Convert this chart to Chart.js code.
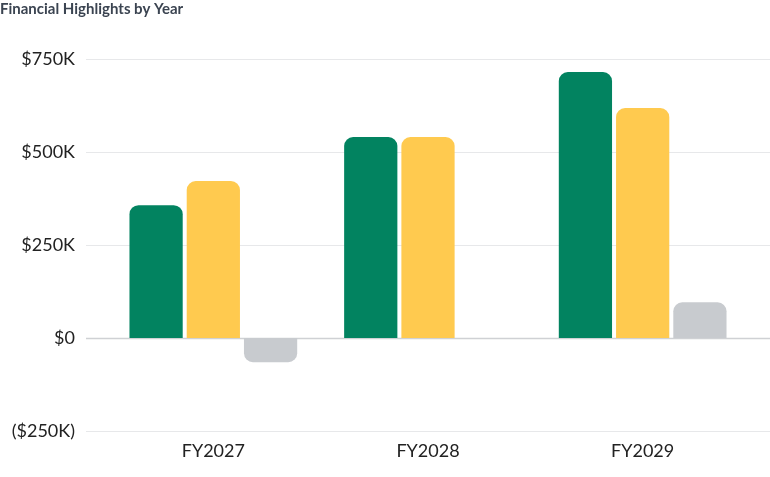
<!DOCTYPE html>
<html>
<head>
<meta charset="utf-8">
<script src="https://cdn.jsdelivr.net/npm/chart.js@4/dist/chart.umd.min.js"></script>
<style>
  html, body { margin: 0; padding: 0; background: #ffffff; }
  #wrap { width: 770px; height: 477px; position: relative; }
</style>
</head>
<body>
<div id="wrap"><canvas id="c"></canvas></div>
<script>
const categories = ['FY2027', 'FY2028', 'FY2029'];
const revenue = [357, 540, 715];
const expenses = [422, 540, 618];
const netIncome = [-65, 0, 96];
const yTickValues = [-250, 0, 250, 500, 750];

function fmtK(v) {
  if (v < 0) return '($' + Math.abs(v) + 'K)';
  if (v === 0) return '$0';
  return '$' + v + 'K';
}

const fullGrid = {
  id: 'fullGrid',
  beforeDatasetsDraw(chart) {
    const y = chart.scales.y;
    const ctx = chart.ctx;
    ctx.save();
    y.ticks.forEach(t => {
      const py = Math.round(y.getPixelForValue(t.value)) + 0.5;
      ctx.strokeStyle = t.value === 0 ? '#cfd1d4' : '#e7e8ea';
      ctx.lineWidth = t.value === 0 ? 1.5 : 1;
      ctx.beginPath();
      ctx.moveTo(86, py);
      ctx.lineTo(chart.width, py);
      ctx.stroke();
    });
    ctx.restore();
  }
};

new Chart(document.getElementById('c'), {
  type: 'bar',
  data: {
    labels: categories,
    datasets: [
      { label: 'Revenue', data: revenue, backgroundColor: '#028360', borderRadius: 9, borderSkipped: 'start' },
      { label: 'Expenses', data: expenses, backgroundColor: '#ffca4f', borderRadius: 9, borderSkipped: 'start' },
      { label: 'Net Income', data: netIncome, backgroundColor: '#c8cbcf', borderRadius: 9, borderSkipped: 'start' }
    ]
  },
  plugins: [fullGrid],
  options: {
    responsive: true,
    maintainAspectRatio: false,
    animation: false,
    categoryPercentage: 0.8,
    barPercentage: 0.93,
    layout: { padding: { left: 0, right: 20, top: 0, bottom: 0 } },
    plugins: {
      legend: { display: false },
      tooltip: { enabled: false },
      title: {
        display: true,
        text: 'Financial Highlights by Year',
        align: 'start',
        color: '#3b4451',
        font: { family: 'Lato', size: 15, weight: 'bold' },
        padding: { top: 0, bottom: 41 }
      }
    },
    scales: {
      x: {
        grid: { display: false, drawTicks: false },
        border: { display: false },
        ticks: { color: '#222222', font: { family: 'Lato', size: 18 }, padding: 9 },
        afterFit(s) { s.height = 46; }
      },
      y: {
        min: -250,
        max: 750,
        afterBuildTicks(s) { s.ticks = yTickValues.map(v => ({ value: v })); },
        grid: { display: false, drawTicks: false },
        border: { display: false },
        ticks: {
          color: '#222222',
          font: { family: 'Lato', size: 18 },
          padding: 31,
          callback: v => fmtK(v)
        },
        afterFit(s) { s.width = 106; }
      }
    }
  }
});
</script>
</body>
</html>
